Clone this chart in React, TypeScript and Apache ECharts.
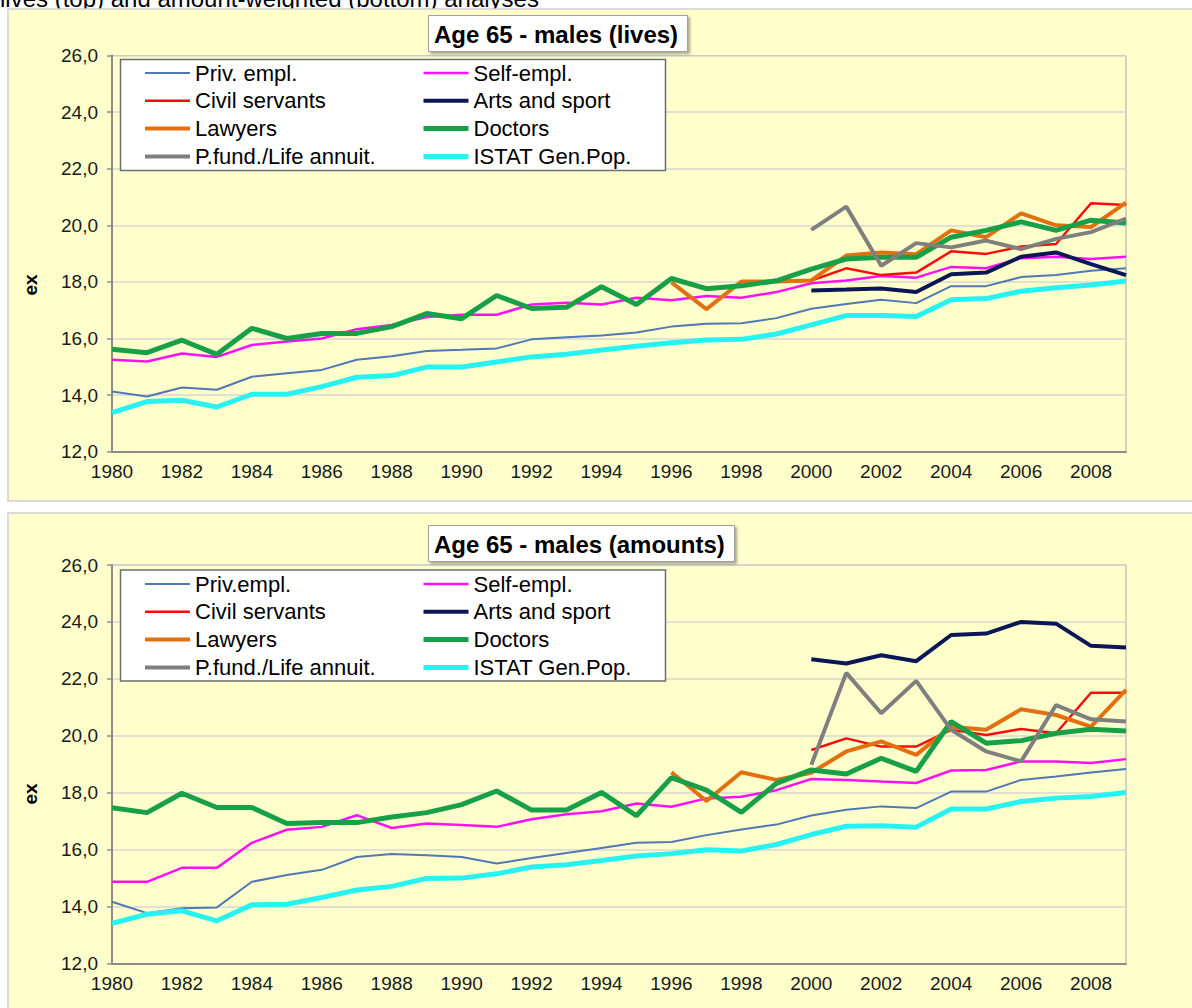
import React, { useEffect, useRef } from "react";
import * as echarts from "echarts";

// ---------- data ----------
const years = [
  "1980", "1981", "1982", "1983", "1984", "1985", "1986", "1987", "1988", "1989",
  "1990", "1991", "1992", "1993", "1994", "1995", "1996", "1997", "1998", "1999",
  "2000", "2001", "2002", "2003", "2004", "2005", "2006", "2007", "2008", "2009",
];

// Top chart: lives
const livesPriv = [14.13, 13.95, 14.27, 14.19, 14.65, 14.77, 14.89, 15.25, 15.37, 15.56, 15.6, 15.65, 15.97, 16.04, 16.11, 16.21, 16.42, 16.52, 16.54, 16.72, 17.05, 17.22, 17.37, 17.25, 17.85, 17.85, 18.17, 18.24, 18.39, 18.48];
const livesSelf = [15.25, 15.19, 15.47, 15.35, 15.77, 15.89, 16.0, 16.33, 16.48, 16.76, 16.84, 16.84, 17.2, 17.26, 17.2, 17.44, 17.35, 17.5, 17.44, 17.64, 17.95, 18.05, 18.21, 18.15, 18.53, 18.48, 18.84, 18.89, 18.81, 18.89];
const livesCivil = [18.05, 18.48, 18.24, 18.33, 19.08, 18.99, 19.25, 19.34, 20.78, 20.72]; // from 2000
const livesArts = [17.7, 17.73, 17.77, 17.64, 18.27, 18.33, 18.89, 19.04, 18.63, 18.24]; // from 2000
const livesLawyers = [17.98, 17.04, 18.01, 18.01, 18.05, 18.93, 19.04, 18.98, 19.82, 19.58, 20.42, 20.0, 19.94, 20.8]; // from 1996
const livesDoctors = [15.62, 15.5, 15.94, 15.44, 16.36, 16.0, 16.18, 16.18, 16.42, 16.88, 16.7, 17.52, 17.06, 17.1, 17.83, 17.2, 18.12, 17.76, 17.86, 18.04, 18.45, 18.81, 18.87, 18.87, 19.58, 19.82, 20.12, 19.82, 20.18, 20.08];
const livesPfund = [19.84, 20.66, 18.57, 19.37, 19.22, 19.46, 19.16, 19.52, 19.76, 20.24]; // from 2000
const livesIstat = [13.38, 13.77, 13.82, 13.58, 14.03, 14.03, 14.3, 14.63, 14.69, 14.99, 14.99, 15.17, 15.35, 15.44, 15.59, 15.73, 15.85, 15.95, 15.97, 16.16, 16.48, 16.81, 16.81, 16.78, 17.37, 17.41, 17.67, 17.79, 17.89, 18.03];

// Bottom chart: amounts
const amtPriv = [14.17, 13.77, 13.94, 13.97, 14.87, 15.11, 15.29, 15.74, 15.85, 15.8, 15.74, 15.51, 15.71, 15.88, 16.06, 16.24, 16.27, 16.51, 16.71, 16.88, 17.2, 17.4, 17.52, 17.46, 18.04, 18.04, 18.45, 18.57, 18.71, 18.83];
const amtSelf = [14.87, 14.87, 15.36, 15.36, 16.24, 16.7, 16.8, 17.21, 16.76, 16.92, 16.87, 16.8, 17.07, 17.24, 17.35, 17.62, 17.51, 17.8, 17.86, 18.09, 18.48, 18.45, 18.39, 18.34, 18.78, 18.8, 19.1, 19.1, 19.04, 19.18];
const amtCivil = [19.5, 19.91, 19.62, 19.62, 20.21, 20.03, 20.24, 20.09, 21.51, 21.51]; // from 2000
const amtArts = [22.69, 22.54, 22.83, 22.62, 23.54, 23.59, 24.0, 23.94, 23.16, 23.1]; // from 2000
const amtLawyers = [18.72, 17.71, 18.72, 18.45, 18.7, 19.45, 19.8, 19.33, 20.32, 20.21, 20.93, 20.73, 20.32, 21.61]; // from 1996
const amtDoctors = [17.47, 17.3, 17.98, 17.48, 17.48, 16.92, 16.95, 16.95, 17.15, 17.3, 17.58, 18.06, 17.39, 17.39, 18.01, 17.19, 18.53, 18.09, 17.31, 18.33, 18.8, 18.66, 19.21, 18.75, 20.5, 19.74, 19.83, 20.09, 20.23, 20.17];
const amtPfund = [18.98, 22.21, 20.79, 21.93, 20.21, 19.45, 19.1, 21.08, 20.58, 20.5]; // from 2000
const amtIstat = [13.41, 13.73, 13.85, 13.5, 14.06, 14.08, 14.32, 14.58, 14.71, 14.99, 15.0, 15.15, 15.39, 15.47, 15.62, 15.78, 15.86, 16.0, 15.95, 16.18, 16.53, 16.82, 16.84, 16.79, 17.43, 17.43, 17.69, 17.81, 17.87, 18.01];

const legendLeftTop = ["Priv. empl.", "Civil servants", "Lawyers", "P.fund./Life annuit."];
const legendLeftBottom = ["Priv.empl.", "Civil servants", "Lawyers", "P.fund./Life annuit."];
const legendRight = ["Self-empl.", "Arts and sport", "Doctors", "ISTAT Gen.Pop."];

const FONT = "'Liberation Sans', Arial, sans-serif";
const PANEL_BG = "#FFFFCC";

// pad a series that starts at a given year with nulls
const fromYear = (start: number, vals: number[]) =>
  years.map((y) => {
    const k = Number(y) - start;
    return k >= 0 && k < vals.length ? vals[k] : null;
  });

const styles: Record<string, { color: string; width: number }> = {
  priv: { color: "#4F78B5", width: 2 },
  self: { color: "#FF10F4", width: 2.5 },
  civil: { color: "#FF0A0A", width: 2.5 },
  arts: { color: "#0B1656", width: 4 },
  lawyers: { color: "#E3700F", width: 4 },
  doctors: { color: "#17A048", width: 5 },
  pfund: { color: "#7F7F7F", width: 4 },
  istat: { color: "#26F2F2", width: 5 },
};

function App() {
  const ref = useRef<HTMLDivElement>(null);

  useEffect(() => {
    document.body.style.margin = "0";
    if (!ref.current) return;
    const chart = echarts.init(ref.current, undefined, { renderer: "svg" });

    const mk = (name: string, key: string, data: (number | null)[], idx: number) => ({
      type: "line",
      name,
      xAxisIndex: idx,
      yAxisIndex: idx,
      data,
      symbol: "none",
      showSymbol: false,
      connectNulls: false,
      lineStyle: { color: styles[key].color, width: styles[key].width },
      itemStyle: { color: styles[key].color },
      emphasis: { disabled: true },
    });

    const seriesFor = (idx: number, privName: string, d: any) => [
      mk(privName, "priv", d.priv, idx),
      mk("Self-empl.", "self", d.self, idx),
      mk("Civil servants", "civil", fromYear(2000, d.civil), idx),
      mk("Arts and sport", "arts", fromYear(2000, d.arts), idx),
      mk("Lawyers", "lawyers", fromYear(1996, d.lawyers), idx),
      mk("Doctors", "doctors", d.doctors, idx),
      mk("P.fund./Life annuit.", "pfund", fromYear(2000, d.pfund), idx),
      mk("ISTAT Gen.Pop.", "istat", d.istat, idx),
    ];

    const grids = [
      { top: 55.5, height: 396.2 },
      { top: 565, height: 398.5 },
    ];

    const xAxis = grids.map((_, i) => ({
      type: "category",
      gridIndex: i,
      data: years,
      boundaryGap: false,
      axisLine: { lineStyle: { color: "#8C8C8C", width: 2 } },
      axisTick: { show: false },
      axisLabel: { interval: 1, fontSize: 19, fontFamily: FONT, color: "#1A1A1A", margin: 10 },
      splitLine: { show: false },
    }));

    const yAxis = grids.map((_, i) => ({
      type: "value",
      gridIndex: i,
      min: 12,
      max: 26,
      interval: 2,
      axisLine: { show: true, lineStyle: { color: "#8C8C8C", width: 2 } },
      axisTick: { show: true, length: 5, lineStyle: { color: "#8C8C8C", width: 1.5 } },
      axisLabel: {
        fontSize: 19,
        fontFamily: FONT,
        color: "#1A1A1A",
        margin: 14,
        formatter: (v: number) => v.toFixed(1).replace(".", ","),
      },
      splitLine: { lineStyle: { color: "#D6D6D6", width: 1.5 } },
    }));

    const legendCommon = {
      orient: "vertical",
      padding: 0,
      itemWidth: 45,
      itemHeight: 14,
      itemGap: 5.8,
      selectedMode: false,
      z: 6,
      itemStyle: { opacity: 0, borderWidth: 0 },
      lineStyle: { width: "inherit" },
      textStyle: { fontFamily: FONT, fontSize: 22, color: "#000", lineHeight: 22 },
    };

    const titleCommon = {
      left: 428,
      padding: [7, 10, 5, 6],
      backgroundColor: "#FFFFFF",
      borderColor: "#A0A0A0",
      borderWidth: 1,
      shadowBlur: 3,
      shadowColor: "rgba(0,0,0,0.35)",
      shadowOffsetX: 2,
      shadowOffsetY: 2,
      textStyle: { fontFamily: FONT, fontSize: 24, fontWeight: "bold", color: "#000", lineHeight: 25 },
    };

    chart.setOption({
      animation: false,
      backgroundColor: "#FFFFFF",
      title: [
        { ...titleCommon, text: "Age 65 - males (lives)", top: 15 },
        { ...titleCommon, text: "Age 65 - males (amounts)", top: 525 },
      ],
      grid: grids.map((g) => ({
        left: 112,
        top: g.top,
        width: 1014,
        height: g.height,
        show: true,
        backgroundColor: PANEL_BG,
        borderColor: "#A8A8A8",
        borderWidth: 1,
        containLabel: false,
      })),
      legend: [
        { ...legendCommon, data: legendLeftTop, left: 143, top: 62 },
        { ...legendCommon, data: legendRight, left: 421, top: 62 },
        { ...legendCommon, data: legendLeftBottom, left: 143, top: 573 },
        { ...legendCommon, data: legendRight, left: 421, top: 573 },
      ],
      xAxis,
      yAxis,
      graphic: [
        {
          type: "text",
          z: -20,
          left: 0,
          top: -14,
          style: { text: "lives (top) and amount-weighted (bottom) analyses", font: `24px ${FONT}`, fill: "#000" },
        },
        {
          type: "rect",
          z: -10,
          shape: { x: 8, y: 9, width: 1190, height: 492 },
          style: { fill: PANEL_BG, stroke: "#D0D0D0", lineWidth: 1.5 },
        },
        {
          type: "rect",
          z: -10,
          shape: { x: 8, y: 513, width: 1190, height: 500 },
          style: { fill: PANEL_BG, stroke: "#D0D0D0", lineWidth: 1.5 },
        },
        {
          type: "rect",
          z: 5,
          shape: { x: 120.5, y: 59.5, width: 545, height: 111 },
          style: { fill: "#FFFFFF", stroke: "#6E6E6E", lineWidth: 1.5 },
        },
        {
          type: "rect",
          z: 5,
          shape: { x: 120.5, y: 570, width: 545, height: 111 },
          style: { fill: "#FFFFFF", stroke: "#6E6E6E", lineWidth: 1.5 },
        },
        {
          type: "text",
          z: 5,
          x: 30,
          y: 285,
          rotation: Math.PI / 2,
          style: { text: "ex", font: `bold 19px ${FONT}`, fill: "#000", align: "center", verticalAlign: "middle" },
        },
        {
          type: "text",
          z: 5,
          x: 30,
          y: 794,
          rotation: Math.PI / 2,
          style: { text: "ex", font: `bold 19px ${FONT}`, fill: "#000", align: "center", verticalAlign: "middle" },
        },
      ],
      series: [
        ...seriesFor(0, "Priv. empl.", {
          priv: livesPriv, self: livesSelf, civil: livesCivil, arts: livesArts,
          lawyers: livesLawyers, doctors: livesDoctors, pfund: livesPfund, istat: livesIstat,
        }),
        ...seriesFor(1, "Priv.empl.", {
          priv: amtPriv, self: amtSelf, civil: amtCivil, arts: amtArts,
          lawyers: amtLawyers, doctors: amtDoctors, pfund: amtPfund, istat: amtIstat,
        }),
      ],
    });

    return () => chart.dispose();
  }, []);

  return <div ref={ref} style={{ width: 1192, height: 1008 }} />;
}

export default App;
